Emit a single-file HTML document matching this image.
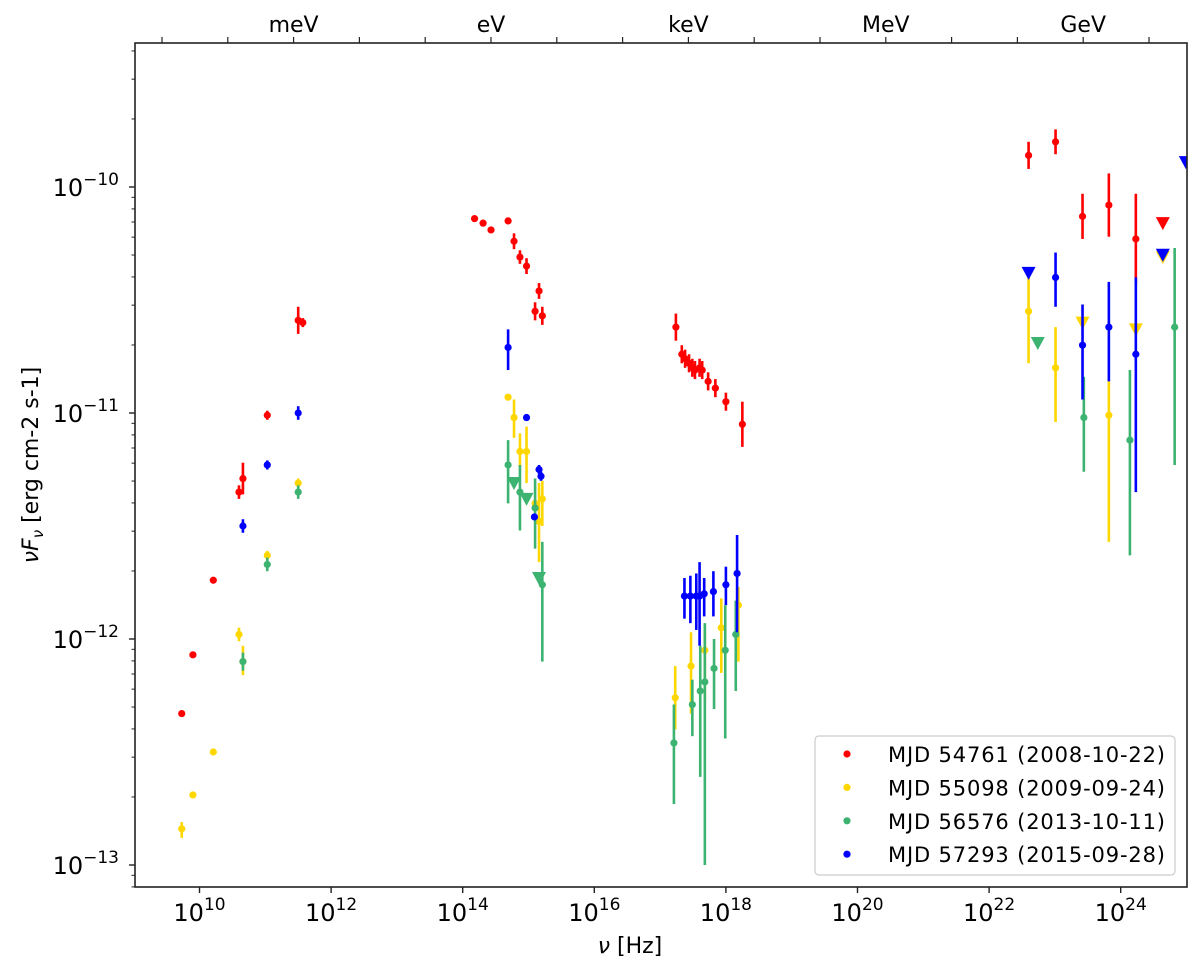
<!DOCTYPE html>
<html><head><meta charset="utf-8">
<style>
html,body{margin:0;padding:0;background:#fff;}
svg{display:block;font-family:"DejaVu Sans","Liberation Sans",sans-serif;}
</style></head>
<body>
<svg id="chart" width="1200" height="973" viewBox="0 0 1200 973"></svg>
<script>
// ---- data (log10 nu [Hz], log10 nuFnu, lower, upper) ----
const redNu   = [9.73,9.90,10.21,10.60,10.66,11.03,11.50,11.57,14.18,14.31,14.43,14.69,14.78,14.87,14.97,15.16,15.10,15.21,17.24,17.33,17.38,17.44,17.49,17.53,17.60,17.64,17.73,17.84,18.00,18.25,22.60,23.01,23.42,23.82,24.23];
const redF    = [-12.33,-12.07,-11.74,-11.35,-11.29,-11.01,-10.59,-10.60,-10.14,-10.16,-10.19,-10.15,-10.24,-10.31,-10.35,-10.46,-10.55,-10.57,-10.62,-10.74,-10.76,-10.78,-10.80,-10.81,-10.80,-10.81,-10.86,-10.89,-10.95,-11.05,-9.86,-9.80,-10.13,-10.08,-10.23];
const redErr  = [0,0,0,0.03,0.07,0.02,0.06,0.02,0,0,0,0,0.035,0.03,0.035,0.035,0.04,0.04,0.06,0.04,0.04,0.04,0.04,0.04,0.04,0.04,0.04,0.04,0.04,0.1,0.06,0.055,0.1,0.14,0.2];
const redUlNu = [24.64];
const redUlF  = [-10.16];

const yelNu   = [9.73,9.90,10.21,10.60,10.66,11.03,11.50,14.69,14.78,14.87,14.97,15.10,15.16,15.21,17.23,17.47,17.68,17.93,18.19,22.60,23.01,23.82];
const yelF    = [-12.84,-12.69,-12.50,-11.98,-12.10,-11.63,-11.31,-10.93,-11.02,-11.17,-11.17,-11.40,-11.48,-11.38,-12.26,-12.12,-12.05,-11.95,-11.85,-10.55,-10.80,-11.01];
const yelLo   = [-12.88,-12.69,-12.50,-12.01,-12.16,-11.65,-11.33,-10.93,-11.11,-11.24,-11.31,-11.40,-11.66,-11.50,-12.40,-12.33,-12.27,-12.15,-12.10,-10.78,-11.04,-11.57];
const yelHi   = [-12.81,-12.69,-12.50,-11.95,-12.03,-11.61,-11.29,-10.93,-10.94,-11.09,-11.06,-11.40,-11.31,-11.30,-12.12,-11.97,-11.96,-11.82,-11.77,-10.40,-10.62,-10.86];
const yelUlNu = [23.42,24.23,24.64];
const yelUlF  = [-10.60,-10.63,-10.31];

const grnNu   = [10.66,11.03,11.50,14.69,14.87,15.10,15.21,17.21,17.49,17.61,17.68,17.82,17.99,18.15,23.44,24.14,24.82];
const grnF    = [-12.10,-11.67,-11.35,-11.23,-11.35,-11.42,-11.76,-12.46,-12.29,-12.23,-12.19,-12.13,-12.05,-11.98,-11.02,-11.12,-10.62];
const grnLo   = [-12.14,-11.70,-11.38,-11.40,-11.52,-11.60,-12.10,-12.73,-12.43,-12.61,-13.00,-12.31,-12.44,-12.23,-11.26,-11.63,-11.23];
const grnHi   = [-12.06,-11.64,-11.32,-11.12,-11.23,-11.29,-11.57,-12.29,-12.18,-12.03,-11.93,-12.00,-11.85,-11.83,-10.84,-10.81,-10.27];
const grnUlNu = [14.78,14.97,15.16,22.74];
const grnUlF  = [-11.31,-11.38,-11.73,-10.69];

const bluNu   = [10.66,11.03,11.50,14.69,14.97,15.16,15.19,15.09,17.37,17.46,17.55,17.60,17.67,17.81,18.00,18.17,23.01,23.42,23.82,24.23];
const bluF    = [-11.50,-11.23,-11.00,-10.71,-11.02,-11.25,-11.28,-11.46,-11.81,-11.81,-11.81,-11.81,-11.80,-11.79,-11.76,-11.71,-10.40,-10.70,-10.62,-10.74];
const bluLo   = [-11.53,-11.25,-11.03,-10.81,-11.02,-11.27,-11.30,-11.46,-11.91,-11.93,-11.96,-12.03,-11.90,-11.90,-11.85,-11.97,-10.53,-10.94,-10.86,-11.35];
const bluHi   = [-11.47,-11.21,-10.97,-10.63,-11.02,-11.23,-11.26,-11.46,-11.73,-11.72,-11.71,-11.66,-11.73,-11.70,-11.68,-11.54,-10.29,-10.52,-10.42,-10.40];
const bluUlNu = [22.60,24.64,24.99];
const bluUlF  = [-10.38,-10.30,-9.89];

const xTickExp = [10,12,14,16,18,20,22,24];
const yTickExp = [-10,-11,-12,-13];
const topLabels = ["meV","eV","keV","MeV","GeV"];
const legendLabels = ["MJD 54761 (2008-10-22)","MJD 55098 (2009-09-24)","MJD 56576 (2013-10-11)","MJD 57293 (2015-09-28)"];

// ---- geometry ----
const L=135,R=1187,T=43,B=887;
const xs = lv => 199.5 + (lv-10)*65.8;
const ys = lf => 187 - (lf+10)*226;
const NS="http://www.w3.org/2000/svg";
const svg=document.getElementById('chart');
function mk(tag,attrs,parent){const e=document.createElementNS(NS,tag);for(const k in attrs)e.setAttribute(k,attrs[k]);(parent||svg).appendChild(e);return e;}

const defs=mk('defs',{});
const cp=mk('clipPath',{id:'pc'},defs);
mk('rect',{x:L,y:T,width:R-L,height:B-T},cp);
const plot=mk('g',{'clip-path':'url(#pc)'});



function series(name,col,nu,f,lo,hi,ulNu,ulF){
  const g=mk('g',{},plot);
  
  
  for(let i=0;i<nu.length;i++){
    const x=xs(nu[i]);
    const l=lo[i], h=hi[i];
    if(Math.abs(h-l)>0.005){
      const ln=mk('line',{x1:x,x2:x,y1:ys(l),y2:ys(h),stroke:col,'stroke-width':2.6},g);
      
      
    }
    const c=mk('circle',{cx:x,cy:ys(f[i]),r:3.6,fill:col},g);
    
    
  }
  for(let i=0;i<ulNu.length;i++){
    const x=xs(ulNu[i]),y=ys(ulF[i]);
    const p=mk('polygon',{points:`${x-7},${y-6} ${x+7},${y-6} ${x},${y+7}`,fill:col},g);
    
    
  }
}
function symErr(f,e,s){return f.map((v,i)=>v+s*e[i]);}
series('mjd54761','#ff0000',redNu,redF,symErr(redF,redErr,-1),symErr(redF,redErr,1),redUlNu,redUlF);
series('mjd55098','#ffd700',yelNu,yelF,yelLo,yelHi,yelUlNu,yelUlF);
series('mjd56576','#3cb371',grnNu,grnF,grnLo,grnHi,grnUlNu,grnUlF);
series('mjd57293','#0000ff',bluNu,bluF,bluLo,bluHi,bluUlNu,bluUlF);

const fr=mk('rect',{x:L,y:T,width:R-L,height:B-T,fill:'none',stroke:'#222','stroke-width':1.6});



xTickExp.forEach(e=>{
  const x=xs(e);
  const t=mk('line',{x1:x,x2:x,y1:B,y2:B+6,stroke:'#222','stroke-width':1.4});
  
  
  const tx=mk('text',{x:x,y:921,'text-anchor':'middle','font-size':24,fill:'#000'});
  
  
  tx.innerHTML=`10<tspan dy="-11" font-size="17">${e}</tspan>`;
});
yTickExp.forEach(e=>{
  const y=ys(e);
  const t=mk('line',{x1:L-6,x2:L,y1:y,y2:y,stroke:'#222','stroke-width':1.4});
  
  
  const tx=mk('text',{x:119,y:y+9,'text-anchor':'end','font-size':24,fill:'#000'});
  
  
  tx.innerHTML=`10<tspan dy="-11" font-size="17">\u2212${-e}</tspan>`;
});
for(let d=-14;d<=-10;d++){
  for(let m=2;m<=9;m++){
    const y=ys(d+Math.log10(m));
    if(y<T||y>B)continue;
    const t=mk('line',{x1:L-3.5,x2:L,y1:y,y2:y,stroke:'#222','stroke-width':1});
    
    
  }
}
for(let k=-5;k<=10;k++){
  const x=491+k*65.8;
  if(x<L||x>R)continue;
  const t=mk('line',{x1:x,x2:x,y1:T-6,y2:T,stroke:'#222','stroke-width':1.2});
  
  
}
topLabels.forEach((lab,i)=>{
  const x=491+(i-1)*3*65.8;
  const tx=mk('text',{x:x,y:32,'text-anchor':'middle','font-size':22,fill:'#000'});
  
  
  tx.textContent=lab;
});
const xt=mk('text',{x:630,y:953,'text-anchor':'middle','font-size':22,fill:'#000'});


xt.innerHTML='<tspan font-style="italic">ν</tspan> [Hz]';
const yt=mk('text',{x:0,y:0,'text-anchor':'middle','font-size':22,fill:'#000',transform:'translate(38,465) rotate(-90)'});


yt.innerHTML='<tspan font-style="italic">νF</tspan><tspan font-style="italic" font-size="15" dy="5">ν</tspan><tspan dy="-5">  [erg cm-2 s-1]</tspan>';

const lg=mk('g',{});


mk('rect',{x:815,y:736,width:360,height:139,rx:4,fill:'#fff',stroke:'#ccc','stroke-width':1.2},lg);
const lcols=['#ff0000','#ffd700','#3cb371','#0000ff'];
legendLabels.forEach((lab,i)=>{
  const y=754+i*33.4;
  const e=mk('g',{},lg);
  
  
  mk('circle',{cx:847,cy:y,r:3.6,fill:lcols[i]},e);
  const t=mk('text',{x:888,y:y+8,'font-size':21,textLength:277,fill:'#000'},e);
  t.textContent=lab;
});
</script>
</body></html>
